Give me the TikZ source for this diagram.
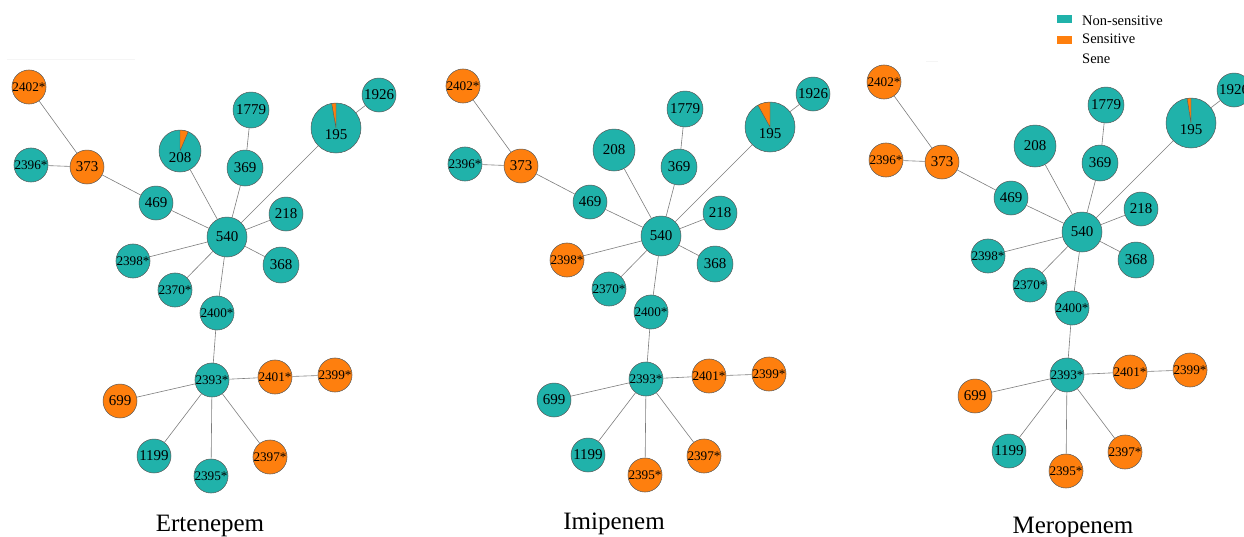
\documentclass[tikz,border=0pt]{standalone}
\usepackage{fontspec}
\setmainfont{Liberation Serif}

\definecolor{tealc}{RGB}{32,178,170}
\definecolor{orgc}{RGB}{254,127,14}
\definecolor{rimc}{RGB}{88,88,88}
\definecolor{edgec}{RGB}{125,125,125}

\tikzset{
  nd/.style={circle, draw=rimc, line width=0.5pt, fill=tealc, inner sep=0pt,
             minimum size=34pt, font=\fontsize{15}{15}\selectfont},
  starred/.style={font=\fontsize{13.2}{13.2}\selectfont},
  sens/.style={fill=orgc},
  % orange share of a mixed node, as a wedge from 12 o'clock to angle #1;
  % the label sits a little below the centre
  pie/.style={text height=22pt, text depth=0pt,
    path picture={
      \filldraw[fill=orgc, draw=rimc, line width=0.4pt]
        (path picture bounding box.center) -- ++(90:40pt)
        arc[start angle=90, end angle=#1, radius=40pt] -- cycle;}},
  link/.style={draw=edgec, line width=0.6pt},
  legsq/.style={rectangle, inner sep=0pt, minimum width=15pt, minimum height=8pt},
  legtxt/.style={anchor=west, inner sep=0pt, font=\fontsize{14.5}{14.5}\selectfont},
  title/.style={anchor=base, inner sep=0pt, font=\fontsize{25}{25}\selectfont},
  % Ertenepem
  a/n2402/.style={sens}, a/n373/.style={sens}, a/n699/.style={sens},
  a/n2401/.style={sens}, a/n2399/.style={sens}, a/n2397/.style={sens},
  a/n208/.style={pie=67}, a/n195/.style={pie=100},
  % Imipenem
  b/n2402/.style={sens}, b/n373/.style={sens}, b/n2398/.style={sens},
  b/n2401/.style={sens}, b/n2399/.style={sens}, b/n2395/.style={sens},
  b/n2397/.style={sens}, b/n195/.style={pie=119},
  % Meropenem
  c/n2402/.style={sens}, c/n2396/.style={sens}, c/n373/.style={sens},
  c/n699/.style={sens}, c/n2401/.style={sens}, c/n2399/.style={sens},
  c/n2395/.style={sens}, c/n2397/.style={sens}, c/n195/.style={pie=99},
}

% one minimum spanning tree; #1 = panel key, #2 = shift
\newcommand\strainnet[2]{%
\begin{scope}[shift={#2}]
  \node[nd,starred,#1/n2402/.try] (#1n2402) at (29,87) {2402*};
  \node[nd,starred,#1/n2396/.try] (#1n2396) at (31,165) {2396*};
  \node[nd,#1/n373/.try] (#1n373) at (87,167) {373};
  \node[nd,minimum size=42pt,#1/n208/.try] (#1n208) at (180,151) {208};
  \node[nd,minimum size=36pt,#1/n1779/.try] (#1n1779) at (251,110) {1779};
  \node[nd,minimum size=36pt,#1/n369/.try] (#1n369) at (245,168) {369};
  \node[nd,#1/n469/.try] (#1n469) at (156,203) {469};
  \node[nd,#1/n218/.try] (#1n218) at (286,214) {218};
  \node[nd,minimum size=40pt,#1/n540/.try] (#1n540) at (227,237) {540};
  \node[nd,minimum size=50pt,#1/n195/.try] (#1n195) at (336,128) {195};
  \node[nd,#1/n1926/.try] (#1n1926) at (379,95) {1926};
  \node[nd,starred,#1/n2398/.try] (#1n2398) at (133,261) {2398*};
  \node[nd,starred,#1/n2370/.try] (#1n2370) at (175,290) {2370*};
  \node[nd,minimum size=36pt,#1/n368/.try] (#1n368) at (281,265) {368};
  \node[nd,starred,#1/n2400/.try] (#1n2400) at (217,313) {2400*};
  \node[nd,starred,#1/n2393/.try] (#1n2393) at (212,380) {2393*};
  \node[nd,starred,#1/n2401/.try] (#1n2401) at (275,377) {2401*};
  \node[nd,starred,#1/n2399/.try] (#1n2399) at (335,375) {2399*};
  \node[nd,#1/n699/.try] (#1n699) at (120,401) {699};
  \node[nd,#1/n1199/.try] (#1n1199) at (154,456) {1199};
  \node[nd,starred,#1/n2395/.try] (#1n2395) at (211,476) {2395*};
  \node[nd,starred,#1/n2397/.try] (#1n2397) at (270,457) {2397*};
  \foreach \u/\v in {2402/373, 2396/373, 373/469, 469/540, 208/540, 369/540,
                     1779/369, 195/540, 1926/195, 218/540, 368/540, 2398/540,
                     2370/540, 2400/540, 2393/2400, 2393/2401, 2401/2399,
                     2393/699, 2393/1199, 2393/2395, 2393/2397}
    \draw[link] (#1n\u) -- (#1n\v);
\end{scope}}

\begin{document}
\begin{tikzpicture}[x=1pt, y=-1pt]
  \useasboundingbox (0,0) rectangle (1244,536);
  \clip (0,0) rectangle (1244,536);

  % faint rules left over at the top of the first and third panels
  \draw[gray!8, line width=0.8pt] (7,59) -- (135,59);
  \draw[gray!8, line width=0.8pt] (926,61) -- (938,61);

  \strainnet{a}{(0,0)}
  \strainnet{b}{(434,-1)}
  \strainnet{c}{(855,-5)}

  % panel titles
  \node[title] (ta) at (210,531) {Ertenepem};
  \node[title] (tb) at (614,529) {Imipenem};
  \node[title] (tc) at (1073,533) {Meropenem};

  % legend
  \node[legsq, fill=tealc] (lga) at (1064.5,19) {};
  \node[legsq, fill=orgc] (lgb) at (1064.5,40) {};
  \node[legtxt] (lgat) at (1082,21) {Non-sensitive};
  \node[legtxt] (lgbt) at (1082,39) {Sensitive};
  \node[legtxt] (lgct) at (1082,59) {Sene};
\end{tikzpicture}
\end{document}
